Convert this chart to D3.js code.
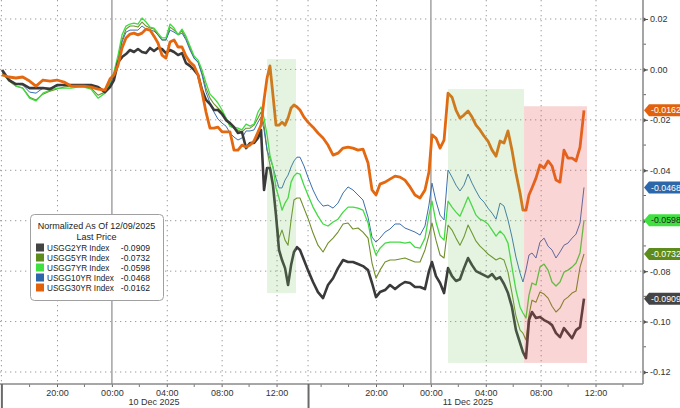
<!DOCTYPE html>
<html><head><meta charset="utf-8">
<script src="https://cdn.jsdelivr.net/npm/d3@7"></script>
<style>body{margin:0;background:#fff;}svg{display:block;font-family:"Liberation Sans",Arial,sans-serif;}</style>
</head><body><svg id="c" width="680" height="408"></svg>
<script>
// trading-hour index (hours since 20:00 on 9 Dec, with the session break compressed)
const hours = [-4.0,-3.5,-3.0,-2.5,-2.0,-1.53,-1.02,-0.51,0,0.51,
1.02,1.53,1.97,2.48,2.99,3.5,3.86,4.15,4.45,4.74,
5.03,5.32,5.61,5.9,6.2,6.49,6.78,7.07,7.36,7.65,
7.94,8.24,8.53,8.82,9.11,9.4,9.69,9.99,10.28,10.57,
10.86,11.15,11.44,11.73,12.03,12.32,12.61,12.9,13.19,13.48,
13.78,14.07,14.36,14.65,14.87,15.09,15.31,15.52,15.74,15.96,
16.18,16.4,16.62,16.84,17.06,17.27,17.49,17.71,18.0,18.29,
18.66,19.02,19.39,19.75,20.12,20.48,20.85,21.21,21.57,21.94,
22.3,22.67,22.96,23.25,23.54,23.91,24.27,24.64,25.0,25.36,
25.73,26.09,26.46,26.82,27.11,27.33,27.62,27.92,28.21,28.5,
28.79,29.08,29.37,29.66,29.96,30.25,30.54,30.83,31.12,31.41,
31.71,32.0,32.29,32.58,32.87,33.16,33.45,33.75,33.96,34.18,
34.4,34.62,34.91,35.2,35.5,35.79,36.08,36.37,36.66,36.95,
37.24,37.54,37.83,38.12,38.41];

const usgg2 = [-0.0002,-0.0042,-0.0058,-0.0058,-0.0074,-0.0074,-0.0074,-0.0078,-0.0062,-0.0062,
-0.0062,-0.0062,-0.0062,-0.0062,-0.0070,-0.0090,-0.0070,-0.0042,0.0029,0.0049,
0.0061,0.0077,0.0069,0.0081,0.0069,0.0065,0.0085,0.0073,0.0085,0.0081,
0.0065,0.0077,0.0069,0.0057,0.0065,0.0025,0.0014,-0.0002,-0.0022,-0.0082,
-0.0121,-0.0137,-0.0161,-0.0161,-0.0177,-0.0201,-0.0213,-0.0229,-0.0252,-0.0248,
-0.0312,-0.0292,-0.0292,-0.0272,-0.0240,-0.0478,-0.0391,-0.0391,-0.0459,-0.0578,
-0.0716,-0.0756,-0.0788,-0.0855,-0.0776,-0.0724,-0.0705,-0.0716,-0.0756,-0.0796,
-0.0843,-0.0883,-0.0907,-0.0855,-0.0828,-0.0788,-0.0756,-0.0764,-0.0764,-0.0772,
-0.0780,-0.0796,-0.0847,-0.0903,-0.0883,-0.0875,-0.0855,-0.0871,-0.0855,-0.0843,
-0.0847,-0.0863,-0.0863,-0.0871,-0.0800,-0.0764,-0.0820,-0.0847,-0.0887,-0.0788,
-0.0820,-0.0839,-0.0832,-0.0788,-0.0748,-0.0776,-0.0800,-0.0808,-0.0816,-0.0824,
-0.0812,-0.0832,-0.0824,-0.0851,-0.0887,-0.0943,-0.1034,-0.1085,-0.1121,-0.1145,
-0.0994,-0.0962,-0.0986,-0.0982,-0.0994,-0.1002,-0.1014,-0.1046,-0.1062,-0.1026,
-0.1046,-0.1066,-0.1034,-0.1022,-0.0909];

const usgg5 = [-0.0014,-0.0046,-0.0066,-0.0074,-0.0110,-0.0121,-0.0098,-0.0086,-0.0078,-0.0070,
-0.0066,-0.0066,-0.0066,-0.0074,-0.0102,-0.0090,-0.0058,-0.0022,0.0045,0.0117,
0.0160,0.0172,0.0172,0.0168,0.0188,0.0172,0.0164,0.0160,0.0137,0.0117,
0.0117,0.0168,0.0156,0.0140,0.0152,0.0125,0.0085,0.0045,0.0029,-0.0014,
-0.0074,-0.0114,-0.0137,-0.0153,-0.0169,-0.0193,-0.0225,-0.0233,-0.0240,-0.0248,
-0.0233,-0.0233,-0.0221,-0.0193,-0.0169,-0.0221,-0.0320,-0.0379,-0.0459,-0.0578,
-0.0669,-0.0637,-0.0677,-0.0697,-0.0597,-0.0518,-0.0510,-0.0510,-0.0550,-0.0590,
-0.0649,-0.0697,-0.0724,-0.0689,-0.0669,-0.0645,-0.0613,-0.0609,-0.0633,-0.0629,
-0.0645,-0.0669,-0.0768,-0.0828,-0.0796,-0.0764,-0.0756,-0.0756,-0.0752,-0.0748,
-0.0756,-0.0764,-0.0764,-0.0716,-0.0657,-0.0609,-0.0677,-0.0736,-0.0748,-0.0617,
-0.0637,-0.0669,-0.0697,-0.0665,-0.0617,-0.0649,-0.0681,-0.0701,-0.0716,-0.0732,
-0.0744,-0.0756,-0.0748,-0.0756,-0.0804,-0.0887,-0.0978,-0.1034,-0.1046,-0.1073,
-0.0974,-0.0915,-0.0923,-0.0883,-0.0891,-0.0907,-0.0939,-0.0962,-0.0947,-0.0915,
-0.0903,-0.0887,-0.0879,-0.0784,-0.0732];

const usgg7 = [-0.0014,-0.0042,-0.0066,-0.0074,-0.0114,-0.0125,-0.0094,-0.0082,-0.0074,-0.0074,
-0.0074,-0.0070,-0.0070,-0.0078,-0.0114,-0.0094,-0.0050,-0.0010,0.0057,0.0137,
0.0172,0.0180,0.0184,0.0180,0.0204,0.0188,0.0168,0.0164,0.0144,0.0125,
0.0125,0.0180,0.0164,0.0137,0.0160,0.0132,0.0093,0.0053,0.0037,-0.0002,
-0.0054,-0.0098,-0.0114,-0.0133,-0.0161,-0.0193,-0.0225,-0.0229,-0.0233,-0.0240,
-0.0217,-0.0225,-0.0217,-0.0169,-0.0149,-0.0193,-0.0260,-0.0340,-0.0387,-0.0470,
-0.0510,-0.0558,-0.0530,-0.0510,-0.0447,-0.0423,-0.0411,-0.0415,-0.0459,-0.0498,
-0.0546,-0.0582,-0.0613,-0.0621,-0.0605,-0.0594,-0.0566,-0.0546,-0.0546,-0.0550,
-0.0558,-0.0609,-0.0689,-0.0736,-0.0709,-0.0689,-0.0685,-0.0685,-0.0685,-0.0689,
-0.0685,-0.0705,-0.0709,-0.0669,-0.0578,-0.0522,-0.0605,-0.0661,-0.0677,-0.0522,
-0.0546,-0.0566,-0.0582,-0.0546,-0.0506,-0.0542,-0.0578,-0.0594,-0.0601,-0.0613,
-0.0637,-0.0661,-0.0641,-0.0657,-0.0689,-0.0784,-0.0875,-0.0943,-0.0966,-0.0986,
-0.0895,-0.0847,-0.0855,-0.0784,-0.0772,-0.0796,-0.0843,-0.0859,-0.0843,-0.0804,
-0.0796,-0.0784,-0.0768,-0.0728,-0.0598];

const usgg10 = [-0.0010,-0.0038,-0.0058,-0.0062,-0.0090,-0.0094,-0.0074,-0.0074,-0.0066,-0.0062,
-0.0062,-0.0062,-0.0066,-0.0066,-0.0078,-0.0082,-0.0058,-0.0026,0.0037,0.0109,
0.0148,0.0156,0.0156,0.0156,0.0172,0.0160,0.0156,0.0152,0.0137,0.0117,
0.0117,0.0156,0.0148,0.0137,0.0144,0.0117,0.0077,0.0045,0.0029,-0.0022,
-0.0090,-0.0133,-0.0169,-0.0197,-0.0213,-0.0225,-0.0252,-0.0268,-0.0280,-0.0272,
-0.0244,-0.0244,-0.0240,-0.0209,-0.0189,-0.0240,-0.0320,-0.0352,-0.0387,-0.0431,
-0.0470,-0.0470,-0.0439,-0.0419,-0.0387,-0.0363,-0.0348,-0.0348,-0.0383,-0.0427,
-0.0478,-0.0518,-0.0542,-0.0538,-0.0550,-0.0530,-0.0490,-0.0466,-0.0478,-0.0498,
-0.0518,-0.0586,-0.0665,-0.0685,-0.0669,-0.0645,-0.0633,-0.0613,-0.0613,-0.0629,
-0.0637,-0.0645,-0.0657,-0.0621,-0.0538,-0.0451,-0.0522,-0.0578,-0.0597,-0.0399,
-0.0427,-0.0459,-0.0482,-0.0459,-0.0415,-0.0451,-0.0482,-0.0510,-0.0526,-0.0550,
-0.0570,-0.0594,-0.0530,-0.0542,-0.0597,-0.0665,-0.0744,-0.0808,-0.0843,-0.0796,
-0.0736,-0.0728,-0.0748,-0.0685,-0.0669,-0.0701,-0.0716,-0.0748,-0.0724,-0.0697,
-0.0689,-0.0669,-0.0653,-0.0609,-0.0468];

const usgg30 = [-0.0022,-0.0030,-0.0034,-0.0030,-0.0046,-0.0066,-0.0042,-0.0046,-0.0042,-0.0050,
-0.0066,-0.0066,-0.0066,-0.0070,-0.0078,-0.0082,-0.0038,-0.0022,0.0017,0.0085,
0.0125,0.0140,0.0144,0.0137,0.0144,0.0160,0.0156,0.0132,0.0105,0.0057,
0.0045,0.0109,0.0117,0.0089,0.0089,0.0053,0.0029,0.0014,-0.0022,-0.0090,
-0.0169,-0.0233,-0.0233,-0.0229,-0.0248,-0.0248,-0.0248,-0.0320,-0.0320,-0.0300,
-0.0308,-0.0300,-0.0284,-0.0248,-0.0221,-0.0121,-0.0034,0.0014,-0.0102,-0.0221,
-0.0221,-0.0209,-0.0221,-0.0193,-0.0153,-0.0141,-0.0149,-0.0161,-0.0189,-0.0209,
-0.0229,-0.0252,-0.0272,-0.0300,-0.0340,-0.0332,-0.0312,-0.0308,-0.0312,-0.0320,
-0.0316,-0.0371,-0.0478,-0.0498,-0.0455,-0.0447,-0.0435,-0.0423,-0.0427,-0.0439,
-0.0466,-0.0498,-0.0510,-0.0478,-0.0407,-0.0260,-0.0272,-0.0312,-0.0280,-0.0094,
-0.0110,-0.0161,-0.0193,-0.0181,-0.0165,-0.0189,-0.0221,-0.0240,-0.0264,-0.0284,
-0.0320,-0.0344,-0.0284,-0.0292,-0.0244,-0.0320,-0.0411,-0.0490,-0.0558,-0.0558,
-0.0498,-0.0470,-0.0431,-0.0379,-0.0391,-0.0363,-0.0383,-0.0439,-0.0447,-0.0320,
-0.0352,-0.0352,-0.0363,-0.0308,-0.0162];

const seriesNames = ["USGG2YR Index","USGG5YR Index","USGG7YR Index","USGG10YR Index","USGG30YR Index"];
const lastPrices = [-0.0909,-0.0732,-0.0598,-0.0468,-0.0162];

const xTickHours = [0,4,8,12,16,23.25,27.25,31.25,35.25,39.25];
const xTickLabels = ["20:00","00:00","04:00","08:00","12:00","20:00","00:00","04:00","08:00","12:00"];
const xMinorHours = [-2,2,6,10,14,19.25,21.25,25.25,29.25,33.25,37.25,41.25];
const midnightHours = [4,27.25];
const sessionBreaks = [-4.09,18.26];
const dateLabels = ["10 Dec 2025","11 Dec 2025"];
const dateLabelHours = [7.07,29.95];
const yTicks = [0.02,0,-0.02,-0.04,-0.06,-0.08,-0.10,-0.12];
const yHiddenLabels = [-0.06]; // covered by the last-price tag in the original
const yMinor = [0.01,-0.01,-0.03,-0.05,-0.07,-0.09,-0.11];
// shaded periods: [startHour, endHour, topValue, bottomValue]
const greenZones = [[15.31,17.42,0.0041,-0.0887],[28.5,34.04,-0.0078,-0.1164]];
const redZones = [[34.04,38.63,-0.0146,-0.1164]];

const W=680,H=408,plotR=643,plotB=384;
const svg=d3.select("#c");
const x=d3.scaleLinear().domain([-4.155,42.71]).range([0,plotR]);
const y=d3.scaleLinear().domain([-0.12,0.02]).range([372,19]);
const fmt=d=>yHiddenLabels.some(h=>Math.abs(h-d)<1e-9)?"":d3.format(".2f")(d).replace("\u2212","-");
const fmt4=d=>d3.format(".4f")(d).replace("\u2212","-");

const styles=[
 {line:"#3a3a3a",w:2.6,tag:"#444444",txt:"#fff"},
 {line:"#6f8f2a",w:1.1,tag:"#5d8b1c",txt:"#fff"},
 {line:"#40db40",w:1.3,tag:"#3fe03f",txt:"#1a2a1a"},
 {line:"#3a6fb0",w:1.0,tag:"#2d67aa",txt:"#fff"},
 {line:"#e4680f",w:2.8,tag:"#e2620c",txt:"#fff"}
];
const valuesList=[usgg2,usgg5,usgg7,usgg10,usgg30];
const series=seriesNames.map((n,i)=>({name:n,last:lastPrices[i],pts:hours.map((h,j)=>[h,valuesList[i][j]]),st:styles[i]}));

// horizontal grid
svg.append("g").selectAll("line").data(yTicks).join("line")
 .attr("x1",0).attr("x2",plotR).attr("y1",d=>y(d)).attr("y2",d=>y(d))
 .attr("stroke","#9a9a9a").attr("stroke-width",1).attr("stroke-dasharray","1.3,3.7");
// vertical dotted grid
const vGrid=xTickHours.filter(h=>!midnightHours.includes(h)).concat(sessionBreaks);
svg.append("g").selectAll("line").data(vGrid).join("line")
 .attr("x1",d=>x(d)+0.5).attr("x2",d=>x(d)+0.5).attr("y1",0).attr("y2",plotB)
 .attr("stroke","#9a9a9a").attr("stroke-width",1).attr("stroke-dasharray","1.3,3.7");
// midnight solid lines
svg.append("g").selectAll("line").data(midnightHours).join("line")
 .attr("x1",d=>x(d)).attr("x2",d=>x(d)).attr("y1",0).attr("y2",plotB)
 .attr("stroke","#a8a8a8").attr("stroke-width",1.6);

// lines
const line=d3.line().x(d=>x(d[0])).y(d=>y(d[1]));
const drawOrder=[1,3,2,0,4];
svg.append("g").selectAll("path").data(drawOrder.map(i=>series[i])).join("path")
 .attr("d",d=>line(d.pts)).attr("fill","none")
 .attr("stroke",d=>d.st.line).attr("stroke-width",d=>d.st.w)
 .attr("stroke-linejoin","round");

// shaded zones (translucent overlays)
svg.append("g").selectAll("rect").data(greenZones).join("rect")
 .attr("x",d=>x(d[0])).attr("width",d=>x(d[1])-x(d[0]))
 .attr("y",d=>y(d[2])).attr("height",d=>y(d[3])-y(d[2]))
 .attr("fill","rgb(120,200,100)").attr("fill-opacity",0.2);
svg.append("g").selectAll("rect").data(redZones).join("rect")
 .attr("x",d=>x(d[0])).attr("width",d=>x(d[1])-x(d[0]))
 .attr("y",d=>y(d[2])).attr("height",d=>y(d[3])-y(d[2]))
 .attr("fill","rgb(232,80,80)").attr("fill-opacity",0.24);

// right axis
const ya=svg.append("g").attr("transform",`translate(${plotR},0)`)
 .call(d3.axisRight(y).tickValues(yTicks).tickSize(5).tickPadding(2).tickFormat(fmt));
ya.select(".domain").remove();
ya.selectAll(".tick line").attr("stroke","#555");
ya.selectAll(".tick text").attr("font-size",9).attr("fill","#333").attr("font-family","Liberation Sans, Arial, sans-serif");
ya.selectAll(".tick").append("path").attr("d","M0,-2.5L4,0L0,2.5Z").attr("fill","#555");
svg.append("g").selectAll("line").data(yMinor).join("line")
 .attr("x1",plotR).attr("x2",plotR+3).attr("y1",d=>y(d)).attr("y2",d=>y(d)).attr("stroke","#666");
svg.append("line").attr("x1",plotR).attr("x2",plotR).attr("y1",0).attr("y2",plotB)
 .attr("stroke","#8e8e8e").attr("stroke-width",1.6);

// bottom axis
const xa=svg.append("g").attr("transform",`translate(0,${plotB})`)
 .call(d3.axisBottom(x).tickValues(xTickHours).tickSize(3).tickPadding(3).tickFormat((d,i)=>xTickLabels[i]));
xa.select(".domain").remove();
xa.selectAll(".tick line").attr("stroke","#666");
xa.selectAll(".tick text").attr("font-size",9).attr("fill","#333").attr("font-family","Liberation Sans, Arial, sans-serif");
svg.append("g").selectAll("line").data(xMinorHours).join("line")
 .attr("x1",d=>x(d)).attr("x2",d=>x(d)).attr("y1",plotB).attr("y2",plotB+3).attr("stroke","#777");
svg.append("line").attr("x1",0).attr("x2",plotR).attr("y1",plotB).attr("y2",plotB)
 .attr("stroke","#8a8a8a").attr("stroke-width",1.3);
svg.append("g").selectAll("line").data(sessionBreaks).join("line")
 .attr("x1",d=>x(d)+1).attr("x2",d=>x(d)+1).attr("y1",plotB).attr("y2",H)
 .attr("stroke","#6a6a6a").attr("stroke-width",2);
svg.append("g").selectAll("text").data(dateLabels).join("text")
 .attr("x",(d,i)=>x(dateLabelHours[i])).attr("y",405).attr("text-anchor","middle")
 .attr("font-size",9).attr("fill","#333").text(d=>d);

// legend
const lg=svg.append("g");
lg.append("rect").attr("x",30.5).attr("y",214.5).attr("width",133).attr("height",86).attr("rx",4)
 .attr("fill","#fff").attr("stroke","#a0a0a0").attr("stroke-width",1);
lg.append("text").attr("x",96.5).attr("y",229).attr("text-anchor","middle").attr("font-size",9).attr("fill","#222").text("Normalized As Of 12/09/2025");
lg.append("text").attr("x",96.5).attr("y",240).attr("text-anchor","middle").attr("font-size",9).attr("fill","#222").text("Last Price");
const rows=lg.selectAll("g.row").data(series).join("g").attr("class","row")
 .attr("transform",(d,i)=>`translate(0,${251+i*10})`);
rows.append("rect").attr("x",36).attr("y",-7.5).attr("width",8).attr("height",8).attr("fill",d=>d.st.tag);
rows.append("text").attr("x",47).attr("y",0).attr("font-size",8.2).attr("fill","#222").text(d=>d.name);
rows.append("text").attr("x",150).attr("y",0).attr("text-anchor","end").attr("font-size",8.6).attr("fill","#222").text(d=>fmt4(d.last));

// last-price tags
const tg=svg.append("g").selectAll("g").data(series).join("g")
 .attr("transform",d=>`translate(0,${y(d.last)})`);
tg.append("path").attr("d",`M${plotR+1},0L${plotR+6},-6L${W},-6L${W},6L${plotR+6},6Z`).attr("fill",d=>d.st.tag);
tg.append("text").attr("x",plotR+8).attr("y",3.2).attr("font-size",8.8).attr("fill",d=>d.st.txt).text(d=>fmt4(d.last));
</script></body></html>
